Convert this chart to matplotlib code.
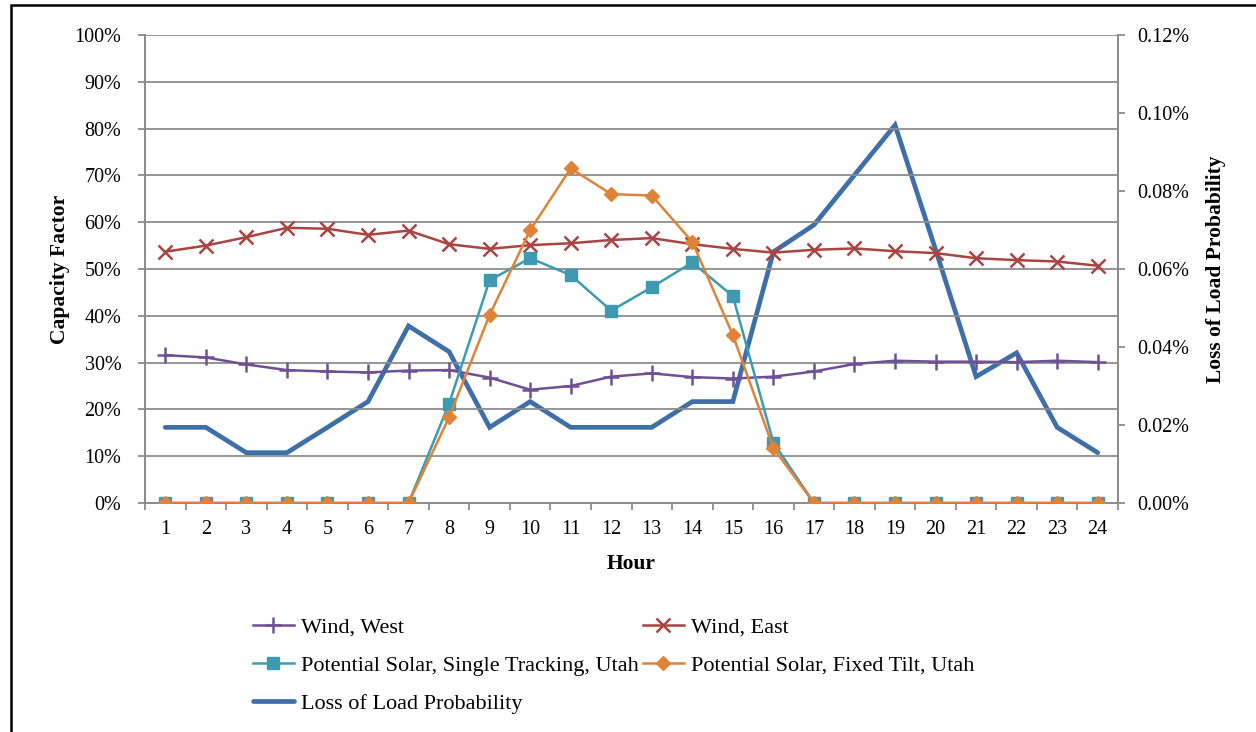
import matplotlib.pyplot as plt
from matplotlib.patches import Rectangle
from matplotlib.ticker import FuncFormatter

hours = list(range(1, 25))

# capacity factor, percent
wind_west = [31.6, 31.1, 29.6, 28.4, 28.1, 27.9, 28.3, 28.4, 26.8, 24.2, 25.0, 27.0,
             27.7, 26.9, 26.6, 27.0, 28.1, 29.7, 30.4, 30.2, 30.2, 30.1, 30.4, 30.1]
wind_east = [53.7, 55.0, 56.8, 58.8, 58.6, 57.3, 58.2, 55.3, 54.3, 55.1, 55.5, 56.2,
             56.6, 55.3, 54.3, 53.5, 54.1, 54.4, 53.8, 53.4, 52.3, 51.9, 51.6, 50.7]
solar_tracking = [0, 0, 0, 0, 0, 0, 0, 21.2, 47.6, 52.3, 48.7, 41.1,
                  46.1, 51.4, 44.2, 12.9, 0, 0, 0, 0, 0, 0, 0, 0]
solar_fixed = [0, 0, 0, 0, 0, 0, 0, 18.3, 40.2, 58.3, 71.5, 66.0,
               65.7, 55.8, 35.9, 11.7, 0, 0, 0, 0, 0, 0, 0, 0]
# loss of load probability, percent
lolp = [0.0194, 0.0194, 0.0129, 0.0129, 0.0194, 0.0260, 0.0454, 0.0388, 0.0194, 0.0260,
        0.0194, 0.0194, 0.0194, 0.0260, 0.0260, 0.0644, 0.0713, 0.0841, 0.0969, 0.0650,
        0.0324, 0.0385, 0.0194, 0.0129]

plt.rcParams['font.family'] = ['Liberation Serif', 'DejaVu Serif']
plt.rcParams['font.size'] = 14.5

fig = plt.figure(figsize=(12.56, 7.32), dpi=100)
ax = fig.add_axes([145 / 1256, 1 - 503 / 732, 973 / 1256, 468 / 732])
ax2 = ax.twinx()

grid_c = '#8c8c8c'

l1, = ax.plot(hours, wind_west, color='#6f5094', lw=1.8, marker='+', ms=12, mew=1.8,
              label='Wind, West', zorder=3)
l2, = ax.plot(hours, wind_east, color='#a84442', lw=1.8, marker='x', ms=10, mew=1.8,
              label='Wind, East', zorder=3)
l3, = ax.plot(hours, solar_tracking, color='#3d9ab0', lw=1.8, marker='s', ms=8.5,
              label='Potential Solar, Single Tracking, Utah', zorder=3)
l4, = ax.plot(hours, solar_fixed, color='#de8337', lw=1.8, marker='D', ms=7.5,
              label='Potential Solar, Fixed Tilt, Utah', zorder=4)
l5, = ax2.plot(hours, lolp, color='#3f6fa8', lw=3.4, solid_capstyle='round',
               solid_joinstyle='miter', label='Loss of Load Probability')

ax.set_xlim(0.5, 24.5)
ax.set_ylim(0, 100)
ax2.set_ylim(0, 0.12)
ax.set_yticks(range(0, 101, 10))
ax2.set_yticks([0, 0.02, 0.04, 0.06, 0.08, 0.10, 0.12])
ax.yaxis.set_major_formatter(FuncFormatter(lambda v, p: f'{v:.0f}%'))
ax2.yaxis.set_major_formatter(FuncFormatter(lambda v, p: f'{v:.2f}%'))

ax.set_xticks(hours)
ax.set_xticks([h + 0.5 for h in range(0, 25)], minor=True)
ax.tick_params(axis='x', which='major', length=0, pad=12)
ax.tick_params(axis='x', which='minor', length=5, width=1.3, color=grid_c, direction='out')
ax.tick_params(axis='y', length=5, width=1.3, color=grid_c, pad=12)
ax2.tick_params(axis='y', length=5, width=1.3, color=grid_c, pad=9)

ax.grid(axis='y', color=grid_c, lw=1.3)
ax.set_axisbelow(True)
ax.set_zorder(ax2.get_zorder() + 1)
ax.patch.set_visible(False)

for a in (ax, ax2):
    a.spines['top'].set_visible(False)
    for s in ('left', 'right', 'bottom'):
        a.spines[s].set_color(grid_c)
        a.spines[s].set_linewidth(1.3)

ax.set_xlabel('Hour', fontweight='bold', fontsize=15.5, labelpad=11)
ax.set_ylabel('Capacity Factor', fontweight='bold', fontsize=15.5, labelpad=3)
ax2.set_ylabel('Loss of Load Probability', fontweight='bold', fontsize=15.5, labelpad=12)

# row-major order in a 2-column legend
handles = [l1, l3, l5, l2, l4]
fig.legend(handles, [h.get_label() for h in handles], ncol=2, frameon=False,
           loc='upper left', bbox_to_anchor=(244 / 1256, 1 - 608 / 732), fontsize=16,
           handlelength=1.85, handletextpad=0.3, columnspacing=0.2,
           labelspacing=0.8, borderaxespad=0)

fig.patches.append(Rectangle((11 / 1256, -0.1), 1.2, 1.1 - 5 / 732, transform=fig.transFigure,
                             fill=False, edgecolor='black', lw=1.8))

fig.savefig('out.png', dpi=100)
